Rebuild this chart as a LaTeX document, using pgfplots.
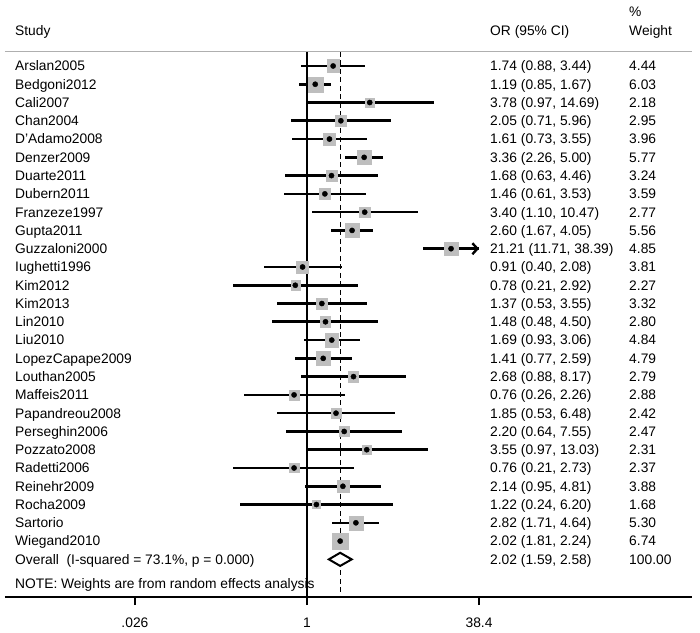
\documentclass[border=0pt]{standalone}
\usepackage{fontspec}
\setmainfont{Liberation Sans}
\usepackage{pgfplots}
\usepackage{pgfplotstable}
\pgfplotsset{compat=1.18, /pgf/number format/assume math mode=true}
\usetikzlibrary{arrows.meta}

\definecolor{sqgray}{RGB}{190,190,190}
\definecolor{rulegray}{RGB}{175,175,175}

% row, study, OR, lower, upper, % weight
\pgfplotstableread[col sep=comma]{
row,study,or,lo,hi,w
1,Arslan2005,1.74,0.88,3.44,4.44
2,Bedgoni2012,1.19,0.85,1.67,6.03
3,Cali2007,3.78,0.97,14.69,2.18
4,Chan2004,2.05,0.71,5.96,2.95
5,D'Adamo2008,1.61,0.73,3.55,3.96
6,Denzer2009,3.36,2.26,5.00,5.77
7,Duarte2011,1.68,0.63,4.46,3.24
8,Dubern2011,1.46,0.61,3.53,3.59
9,Franzeze1997,3.40,1.10,10.47,2.77
10,Gupta2011,2.60,1.67,4.05,5.56
11,Guzzaloni2000,21.21,11.71,38.39,4.85
12,Iughetti1996,0.91,0.40,2.08,3.81
13,Kim2012,0.78,0.21,2.92,2.27
14,Kim2013,1.37,0.53,3.55,3.32
15,Lin2010,1.48,0.48,4.50,2.80
16,Liu2010,1.69,0.93,3.06,4.84
17,LopezCapape2009,1.41,0.77,2.59,4.79
18,Louthan2005,2.68,0.88,8.17,2.79
19,Maffeis2011,0.76,0.26,2.26,2.88
20,Papandreou2008,1.85,0.53,6.48,2.42
21,Perseghin2006,2.20,0.64,7.55,2.47
22,Pozzato2008,3.55,0.97,13.03,2.31
23,Radetti2006,0.76,0.21,2.73,2.37
24,Reinehr2009,2.14,0.95,4.81,3.88
25,Rocha2009,1.22,0.24,6.20,1.68
26,Sartorio,2.82,1.71,4.64,5.30
27,Wiegand2010,2.02,1.81,2.24,6.74
}\studies

\pgfplotstableread[col sep=comma]{
row,study,or,lo,hi,w
28,{Overall\ \ (I-squared = 73.1\%, p = 0.000)},2.02,1.59,2.58,100
}\overall

\newcommand{\tfont}{\fontsize{13.8}{16}\selectfont}
\newcommand{\pn}[1]{\pgfmathprintnumber[fixed,fixed zerofill,precision=2]{#1}}

\begin{document}
\begin{tikzpicture}[
  lbl/.style={anchor=base west, inner sep=0pt, font=\tfont, text=black, yshift=-4.9pt}]
\useasboundingbox (-5pt,-35pt) rectangle (695pt,597pt);
\begin{axis}[
  scale only axis, width=687pt, height=597pt,
  xmode=log, xmin=0.001653, xmax=3515,
  ymin=-30.06, ymax=2.61,
  axis x line=bottom, axis y line=none,
  x axis line style={-, line width=1.3pt},
  xtick={0.026,1,38.4}, xticklabels={.026,1,38.4},
  minor xtick={}, ytick=\empty,
  tick align=outside, major tick length=8pt,
  xtick style={line width=1.3pt, black},
  xticklabel style={font=\tfont, yshift=-9pt},
  clip=false,
  txt/.style={draw=none, no marks, nodes near coords,
    every node near coord/.append style={lbl}},
]
% header
\node[lbl] at (axis cs:0.002044,0.916) {Study};
\node[lbl] at (axis cs:48.49,0.916) {OR (95\% CI)};
\node[lbl] at (axis cs:924.7,0.916) {Weight};
\node[lbl] at (axis cs:924.7,1.955) {\%};
\draw[rulegray, line width=1pt] (axis cs:0.001653,-0.234) -- (axis cs:3515,-0.234);

% reference lines
\draw[black, line width=1.5pt] (axis cs:1,-0.234) -- (axis cs:1,-30.06);
\draw[black, line width=1.3pt, dash pattern=on 5pt off 3.5pt] (axis cs:2.02,-0.234) -- (axis cs:2.02,-30.06);

% weight boxes
\addplot[scatter, only marks, mark=square*,
  mark options={draw=sqgray, fill=sqgray},
  scatter/use mapped color={draw=sqgray, fill=sqgray},
  visualization depends on={3.05*sqrt(\thisrow{w}) \as \msz},
  scatter/@pre marker code/.append style={/tikz/mark size=\msz}]
  table[x=or, y expr=-\thisrow{row}] {\studies};

% confidence intervals and point estimates
\addplot[only marks, mark=*, mark size=2.6pt, black,
  error bars/x dir=both, error bars/x explicit, error bars/error mark=none,
  error bars/error bar style={line width=2.6pt, black}]
  table[x=or, y expr=-\thisrow{row},
    x error plus expr=\thisrow{hi}-\thisrow{or},
    x error minus expr=\thisrow{or}-\thisrow{lo}] {\studies};
\addplot[black, line width=2.4pt, -{Straight Barb[length=5pt, width=11pt]}]
  coordinates {(30,-11) (38.39,-11)};

% pooled estimate
\addplot[draw=black, line width=2pt, fill=white, line join=miter]
  coordinates {(1.59,-28) (2.02,-27.64) (2.58,-28) (2.02,-28.36)} --cycle;

% text columns
\addplot[txt, point meta=explicit symbolic]
  table[x expr=0.002044, y expr=-\thisrow{row}, meta=study] {\studies};
\addplot[txt, point meta=explicit symbolic]
  table[x expr=0.002044, y expr=-\thisrow{row}, meta=study] {\overall};
\addplot[txt,
  visualization depends on={\thisrow{or} \as \orv},
  visualization depends on={\thisrow{lo} \as \lov},
  visualization depends on={\thisrow{hi} \as \hiv},
  nodes near coords={\pn{\orv} (\pn{\lov}, \pn{\hiv})}]
  table[x expr=48.49, y expr=-\thisrow{row}] {\studies};
\addplot[txt,
  visualization depends on={\thisrow{or} \as \orv},
  visualization depends on={\thisrow{lo} \as \lov},
  visualization depends on={\thisrow{hi} \as \hiv},
  nodes near coords={\pn{\orv} (\pn{\lov}, \pn{\hiv})}]
  table[x expr=48.49, y expr=-\thisrow{row}] {\overall};
\addplot[txt, visualization depends on={\thisrow{w} \as \wv},
  nodes near coords={\pn{\wv}}]
  table[x expr=924.7, y expr=-\thisrow{row}] {\studies};
\addplot[txt, visualization depends on={\thisrow{w} \as \wv},
  nodes near coords={\pn{\wv}}]
  table[x expr=924.7, y expr=-\thisrow{row}] {\overall};

\node[lbl] at (axis cs:0.002044,-29.35) {NOTE: Weights are from random effects analysis};
\end{axis}
\end{tikzpicture}
\end{document}
